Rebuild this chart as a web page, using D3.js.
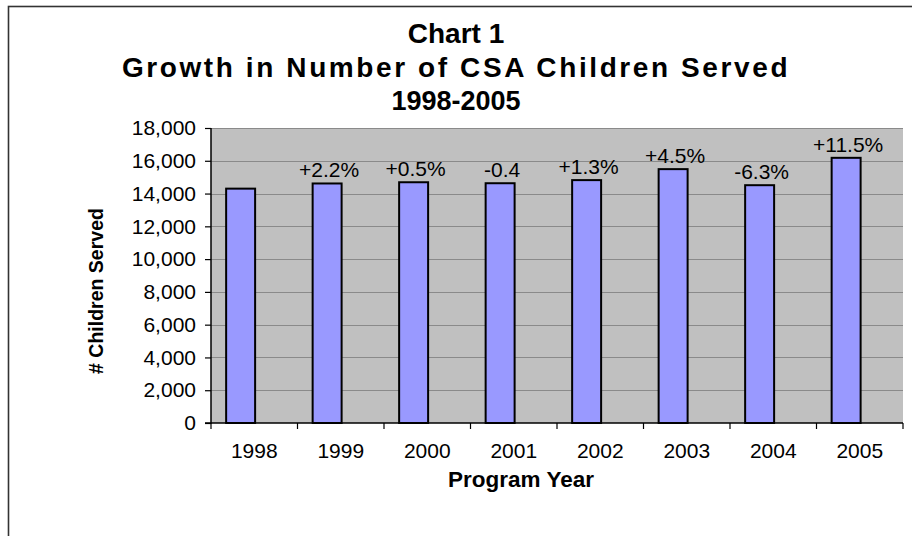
<!DOCTYPE html>
<html>
<head>
<meta charset="utf-8">
<script src="https://cdn.jsdelivr.net/npm/d3@7"></script>
<style>
  html, body { margin: 0; padding: 0; background: #fff; }
  svg { display: block; }
  text { font-family: "Liberation Sans", Arial, sans-serif; fill: #000; }
</style>
</head>
<body>
<svg id="chart" width="912" height="536"></svg>
<script>
const years = ["1998", "1999", "2000", "2001", "2002", "2003", "2004", "2005"];
const childrenServed = [14300, 14615, 14690, 14630, 14820, 15490, 14510, 16180];
const changeLabels = ["", "+2.2%", "+0.5%", "-0.4", "+1.3%", "+4.5%", "-6.3%", "+11.5%"];
const yTicks = [0, 2000, 4000, 6000, 8000, 10000, 12000, 14000, 16000, 18000];
const titleLines = ["Chart 1", "Growth in Number of CSA Children Served", "1998-2005"];

const svg = d3.select("#chart");
const W = 912, H = 536;
const plot = { left: 211, right: 903, top: 128, bottom: 423 };

// outer frame (only top/left visible)
svg.append("rect")
  .attr("x", 8.5).attr("y", 6.5)
  .attr("width", W + 20).attr("height", H + 20)
  .attr("fill", "#fff").attr("stroke", "#333").attr("stroke-width", 1.6);

const x = d3.scaleBand().domain(years).range([plot.left, plot.right]).padding(0);
const y = d3.scaleLinear().domain([0, 18000]).range([plot.bottom, plot.top]);

// plot area background
svg.append("rect")
  .attr("x", plot.left).attr("y", plot.top)
  .attr("width", plot.right - plot.left).attr("height", plot.bottom - plot.top)
  .attr("fill", "#C0C0C0");

// gridlines
svg.append("g").selectAll("line")
  .data(yTicks.filter(d => d > 0))
  .join("line")
  .attr("x1", plot.left).attr("x2", plot.right)
  .attr("y1", d => Math.round(y(d)) + 0.5).attr("y2", d => Math.round(y(d)) + 0.5)
  .attr("stroke", "#8a8a8a").attr("stroke-width", 1);

// bars
const bw = x.bandwidth();
svg.append("g").selectAll("rect")
  .data(years)
  .join("rect")
  .attr("x", (d) => x(d) + bw / 2 - bw * 0.325)
  .attr("width", bw * 0.335)
  .attr("y", (d, i) => y(childrenServed[i]))
  .attr("height", (d, i) => y(0) - y(childrenServed[i]))
  .attr("fill", "#9999FF")
  .attr("stroke", "#000")
  .attr("stroke-width", 2);

// change labels
svg.append("g").selectAll("text")
  .data(years)
  .join("text")
  .attr("x", (d) => x(d) + bw / 2 - bw * 0.325 + bw * 0.335 / 2 + 2)
  .attr("y", (d, i) => y(childrenServed[i]) - 6)
  .attr("text-anchor", "middle")
  .style("font-size", "21px")
  .text((d, i) => changeLabels[i]);

// y axis
const yAxis = d3.axisLeft(y).tickValues(yTicks).tickFormat(d3.format(",")).tickSize(6).tickPadding(9);
const gy = svg.append("g").attr("transform", `translate(${plot.left},0)`).call(yAxis);
gy.select(".domain").attr("stroke", "#000").attr("stroke-width", 1.5).attr("d", `M-6,${plot.bottom}H0V${plot.top}`);
gy.selectAll(".tick line").attr("stroke", "#000").attr("stroke-width", 1.2);
gy.selectAll(".tick text").style("font-size", "21px").style("font-family", "'Liberation Sans', Arial, sans-serif").attr("fill", "#000");

// x axis
const gx = svg.append("g").attr("transform", `translate(0,${plot.bottom})`);
gx.append("line")
  .attr("x1", plot.left).attr("x2", plot.right)
  .attr("y1", 0).attr("y2", 0)
  .attr("stroke", "#000").attr("stroke-width", 1.5);
const boundaries = years.map(d => x(d)).concat([plot.right]);
gx.selectAll("line.tk")
  .data(boundaries)
  .join("line").attr("class", "tk")
  .attr("x1", d => d).attr("x2", d => d)
  .attr("y1", 0).attr("y2", 6)
  .attr("stroke", "#000").attr("stroke-width", 1.2);
gx.selectAll("text")
  .data(years)
  .join("text")
  .attr("x", d => x(d) + bw / 2)
  .attr("y", 35)
  .attr("text-anchor", "middle")
  .style("font-size", "21px")
  .text(d => d);

// axis titles
svg.append("text")
  .attr("x", 521).attr("y", 487)
  .attr("text-anchor", "middle")
  .style("font-size", "22.5px").style("font-weight", "bold")
  .text("Program Year");

svg.append("text")
  .attr("transform", "translate(103,291) rotate(-90)")
  .attr("text-anchor", "middle")
  .style("font-size", "19.5px").style("font-weight", "bold")
  .text("# Children Served");

// title
const titleY = [43, 77, 110];
const titleSize = [28, 28, 27];
const titleSpacing = [0, 2.6, 0];
svg.append("g").selectAll("text")
  .data(titleLines)
  .join("text")
  .attr("x", 456)
  .attr("y", (d, i) => titleY[i])
  .attr("text-anchor", "middle")
  .style("font-size", (d, i) => titleSize[i] + "px").style("font-weight", "bold")
  .style("letter-spacing", (d, i) => titleSpacing[i] + "px")
  .text(d => d);
</script>
</body>
</html>
